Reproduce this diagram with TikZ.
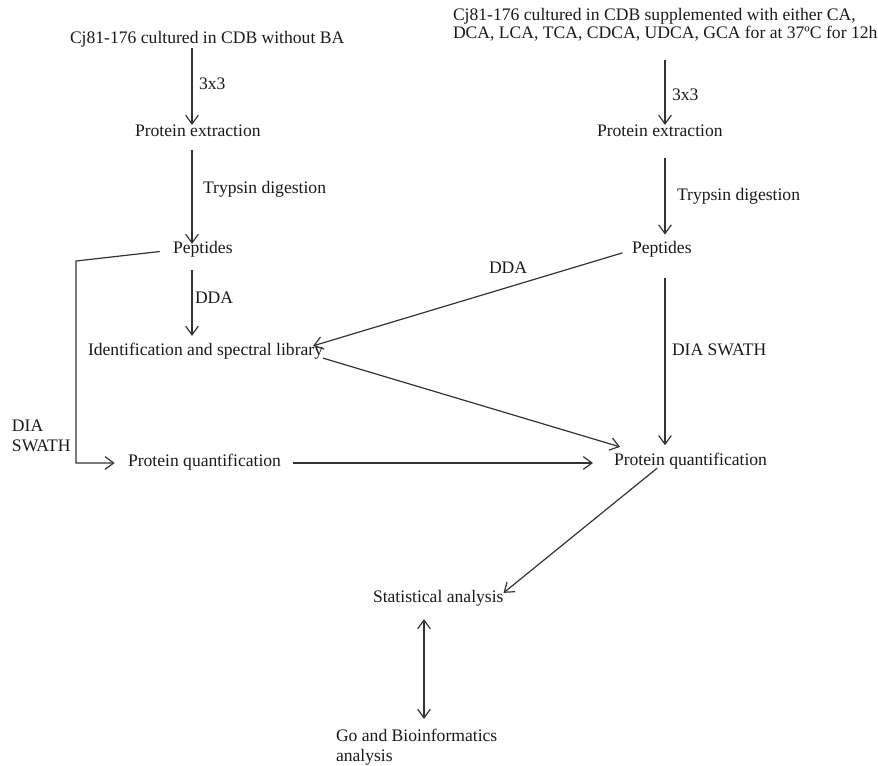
\documentclass[tikz,border=0pt]{standalone}
\usepackage{fontspec}
\setmainfont{Liberation Serif}
\usetikzlibrary{arrows.meta}
\definecolor{ink}{HTML}{1A1A1A}
\definecolor{wire}{HTML}{333333}
\begin{document}
\begin{tikzpicture}[x=0.75pt,y=-0.75pt,
  txt/.style={inner sep=0pt, outer sep=0pt, text=ink, text height=0.7em, text depth=0.22em, font=\fontsize{13.2}{15}\selectfont},
  mtxt/.style={inner sep=0pt, outer sep=0pt, text=ink, align=left, font=\fontsize{13.2}{15}\selectfont},
  ln/.style={draw=wire, line width=0.9pt},
  tip/.style={Straight Barb[length=6.5pt,width=9.5pt,line width=0.9pt]},
  arr/.style={ln, -{Straight Barb[length=6.5pt,width=9.5pt,line width=0.9pt]}},
  darr/.style={ln, {Straight Barb[length=6.5pt,width=9.5pt,line width=0.9pt]}-{Straight Barb[length=6.5pt,width=9.5pt,line width=0.9pt]}}]
\useasboundingbox (0,0) rectangle (878,765);
% column guides
\coordinate (colL) at (192,0);
\coordinate (colR) at (665,0);
\coordinate (colS) at (424,0);
% main nodes
\node[txt,anchor=west] (topL) at (70,40) {Cj81-176 cultured in CDB without BA};
\node[mtxt,anchor=west,font=\fontsize{13.2}{13.5}\selectfont] (topR) at (453,25) {Cj81-176 cultured in CDB supplemented with either CA,\\DCA, LCA, TCA, CDCA, UDCA, GCA for at 37ºC for 12h};
\node[txt,anchor=west] (protL) at (135,133) {Protein extraction};
\node[txt,anchor=west] (pepL) at (173,250) {Peptides};
\node[txt,anchor=west] (idL) at (88,352) {Identification and spectral library};
\node[txt,anchor=west] (quantL) at (128,463) {Protein quantification};
\node[txt,anchor=west] (protR) at (597,133) {Protein extraction};
\node[txt,anchor=west] (pepR) at (632,250) {Peptides};
\node[txt,anchor=west] (quantR) at (614,462) {Protein quantification};
\node[txt,anchor=west] (stat) at (373,599) {Statistical analysis};
\node[mtxt,anchor=west] (go) at (336,747) {Go and Bioinformatics\\analysis};
% labels
\node[txt,anchor=west] (l3a) at (199,86) {3x3};
\node[txt,anchor=west] (ltrypL) at (203,190) {Trypsin digestion};
\node[txt,anchor=west] (lddaL) at (195,300) {DDA};
\node[mtxt,anchor=west] (ldia) at (12,436) {DIA\\SWATH};
\node[txt,anchor=west] (l3b) at (672,97) {3x3};
\node[txt,anchor=west] (ltrypR) at (677,197) {Trypsin digestion};
\node[txt,anchor=west] (lddaR) at (489,270) {DDA};
\node[txt,anchor=west] (ldiaR) at (672,352) {DIA SWATH};
% bends
\coordinate (bendA) at (76,261);
\coordinate (bendB) at (76,463);
% left column
\draw[arr, shorten <=1.5pt, shorten >=1.5pt] (topL.south -| colL) -- (protL.north -| colL);
\draw[arr, shorten <=8pt] (protL.south -| colL) -- (pepL.north -| colL);
\draw[arr, shorten <=10.5pt, shorten >=7.5pt] (pepL.south -| colL) -- (idL.north -| colL);
\draw[arr, shorten <=10pt, shorten >=10pt] (pepL.west) -- (bendA) -- (bendB) -- (quantL.west);
% right column
\draw[arr, shorten <=14pt, shorten >=1.5pt] (topR.south -| colR) -- (protR.north -| colR);
\draw[arr, shorten <=14pt, shorten >=7pt] (protR.south -| colR) -- (pepR.north -| colR);
\draw[arr, shorten <=16.5pt, shorten >=8pt] (pepR.south -| colR) -- (quantR.north -| colR);
% cross links
\draw[arr, shorten <=7.5pt] (pepR.west) -- ([xshift=-7.5pt]idL.north east);
\draw[arr] (idL.south east) -- ([shift={(6,-9)}]quantR.north west);
\draw[arr, shorten <=9pt, shorten >=15.75pt] (quantL.east) -- (quantL.east -| quantR.west);
\draw[arr] ([xshift=-25pt]quantR.south) -- (stat.north east);
\draw[darr, shorten <=10.5pt, shorten >=7.5pt] (stat.south -| colS) -- (go.north -| colS);
\end{tikzpicture}
\end{document}
